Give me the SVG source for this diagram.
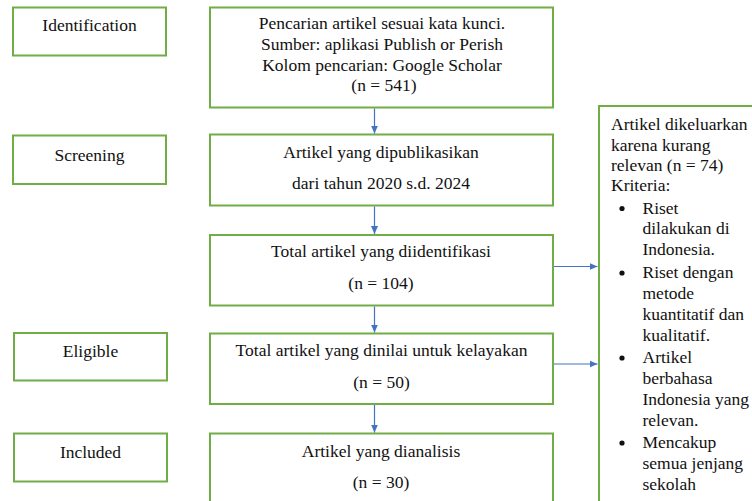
<svg xmlns="http://www.w3.org/2000/svg" width="752" height="501" viewBox="0 0 752 501">
<style>
.box{fill:#fff;stroke:#70AD47;stroke-width:2}
.t{font-family:'Liberation Serif','Times New Roman',Tinos,'DejaVu Serif',serif;font-size:17.5px;fill:#111}
.c{text-anchor:middle}
.conn{stroke:#4472C4;stroke-width:1.2;fill:none;marker-end:url(#ah)}
</style>
<defs>
<marker id="ah" markerUnits="userSpaceOnUse" markerWidth="9" markerHeight="8" refX="8" refY="4" orient="auto">
<path d="M0,0.5 L8,4 L0,7.5 z" fill="#4472C4"/>
</marker>
</defs>
<rect width="752" height="501" fill="#fff"/>

<g id="identification">
<rect class="box" x="13" y="7.5" width="153" height="48"/>
<text class="t c" x="89.5" y="31">Identification</text>
</g>
<g id="screening">
<rect class="box" x="13" y="135.5" width="153" height="48.5"/>
<text class="t c" x="89.5" y="161">Screening</text>
</g>
<g id="eligible">
<rect class="box" x="14" y="333" width="153" height="47.5"/>
<text class="t c" x="90.5" y="357">Eligible</text>
</g>
<g id="included">
<rect class="box" x="14" y="433.5" width="153" height="48"/>
<text class="t c" x="90.5" y="458">Included</text>
</g>

<g id="pencarian">
<rect class="box" x="210" y="7.5" width="343" height="100"/>
<text class="t c" x="382" y="28.5">Pencarian artikel sesuai kata kunci.</text>
<text class="t c" x="382" y="49.5">Sumber: aplikasi Publish or Perish</text>
<text class="t c" x="382" y="70.5">Kolom pencarian: Google Scholar</text>
<text class="t c" x="384" y="91">(n = 541)</text>
</g>
<g id="dipublikasikan">
<rect class="box" x="210" y="134.5" width="343" height="71"/>
<text class="t c" x="381" y="157.5">Artikel yang dipublikasikan</text>
<text class="t c" x="381" y="188.5">dari tahun 2020 s.d. 2024</text>
</g>
<g id="diidentifikasi">
<rect class="box" x="210" y="235" width="343" height="70.5"/>
<text class="t c" x="381" y="256.5">Total artikel yang diidentifikasi</text>
<text class="t c" x="381" y="288.5">(n = 104)</text>
</g>
<g id="dinilai">
<rect class="box" x="210" y="333.5" width="343" height="70.5"/>
<text class="t c" x="381.5" y="356">Total artikel yang dinilai untuk kelayakan</text>
<text class="t c" x="381.5" y="387.5">(n = 50)</text>
</g>
<g id="dianalisis">
<rect class="box" x="210" y="433.5" width="343" height="80"/>
<text class="t c" x="381" y="456.5">Artikel yang dianalisis</text>
<text class="t c" x="381" y="488">(n = 30)</text>
</g>

<g id="dikeluarkan">
<rect class="box" x="599" y="106" width="170" height="410"/>
<text class="t" x="611" y="130">Artikel dikeluarkan</text>
<text class="t" x="611" y="150.5">karena kurang</text>
<text class="t" x="611" y="171">relevan (n = 74)</text>
<text class="t" x="611" y="191">Kriteria:</text>
<circle cx="622" cy="208.5" r="2.6" fill="#111"/>
<text class="t" x="642.5" y="213.5">Riset</text>
<text class="t" x="642.5" y="234">dilakukan di</text>
<text class="t" x="642.5" y="254.5">Indonesia.</text>
<circle cx="622" cy="273" r="2.6" fill="#111"/>
<text class="t" x="642.5" y="277.5">Riset dengan</text>
<text class="t" x="642.5" y="298.5">metode</text>
<text class="t" x="642.5" y="319.5">kuantitatif dan</text>
<text class="t" x="642.5" y="340.5">kualitatif.</text>
<circle cx="622" cy="358" r="2.6" fill="#111"/>
<text class="t" x="642.5" y="362.5">Artikel</text>
<text class="t" x="642.5" y="383.5">berbahasa</text>
<text class="t" x="642.5" y="404.5">Indonesia yang</text>
<text class="t" x="642.5" y="425.5">relevan.</text>
<circle cx="622" cy="443" r="2.6" fill="#111"/>
<text class="t" x="642.5" y="447.5">Mencakup</text>
<text class="t" x="642.5" y="468.5">semua jenjang</text>
<text class="t" x="642.5" y="489.5">sekolah</text>
</g>

<g id="connectors">
<line class="conn" x1="374.5" y1="108.5" x2="374.5" y2="133.5"/>
<line class="conn" x1="374.5" y1="206.5" x2="374.5" y2="234"/>
<line class="conn" x1="374.5" y1="306.5" x2="374.5" y2="332.5"/>
<line class="conn" x1="374.5" y1="405" x2="374.5" y2="432.5"/>
<line class="conn" x1="554" y1="266.5" x2="597.5" y2="266.5"/>
<line class="conn" x1="554" y1="364" x2="597.5" y2="364"/>
</g>
</svg>
